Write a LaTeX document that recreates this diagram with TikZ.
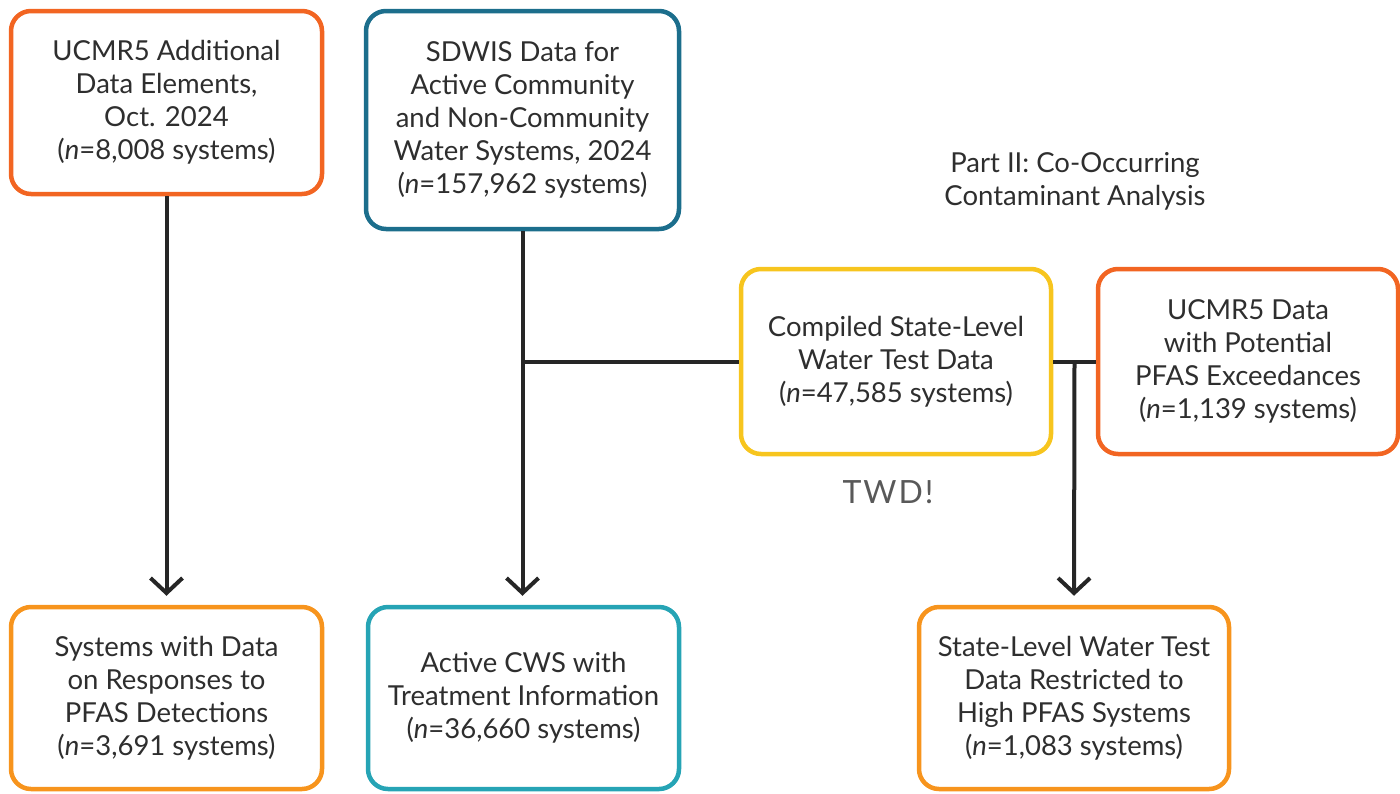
\documentclass[tikz,border=0pt]{standalone}
\usepackage{fontspec}
\setmainfont{Lato}
\newfontfamily\twdfont[LetterSpace=6]{Lato}
\usetikzlibrary{arrows.meta,calc}
\definecolor{cRed}{HTML}{F26522}
\definecolor{cBlue}{HTML}{1C6E8C}
\definecolor{cYel}{HTML}{F7C51E}
\definecolor{cOra}{HTML}{F7941D}
\definecolor{cTeal}{HTML}{26A4B5}
\definecolor{cTxt}{HTML}{2E2E2E}
\definecolor{cLine}{HTML}{262626}
\tikzset{
  box/.style={draw=#1, line width=4.5pt, rounded corners=20pt, fill=white,
    align=center, text=cTxt, inner sep=0pt,
    font=\fontsize{27.5}{33}\selectfont},
  conn/.style={draw=cLine, line width=4pt},
  arr/.style={conn, -{Straight Barb[length=15pt,width=32pt,line width=4pt]}, shorten >=9pt},
}
\begin{document}
\begin{tikzpicture}[x=1pt,y=-1pt]
\useasboundingbox (0,0) rectangle (1400,793);
\node[box=cRed, minimum width=311pt, minimum height=183pt] (b1) at (166.5,102.5)
  {UCMR5 Additional\\Data Elements,\\Oct. 2024\\(\textit{n}=8,008 systems)};
\node[box=cBlue, minimum width=313pt, minimum height=218pt] (b2) at (522.5,120)
  {SDWIS Data for\\Active Community\\and Non-Community\\Water Systems, 2024\\(\textit{n}=157,962 systems)};
\node[box=cYel, minimum width=310pt, minimum height=185pt] (b3) at (896,361.5)
  {Compiled State-Level\\Water Test Data\\(\textit{n}=47,585 systems)};
\node[box=cRed, minimum width=300pt, minimum height=185pt] (b4) at (1248,361.5)
  {UCMR5 Data\\with Potential\\PFAS Exceedances\\(\textit{n}=1,139 systems)};
\node[box=cOra, minimum width=311pt, minimum height=182pt] (b5) at (166.5,698)
  {Systems with Data\\on Responses to\\PFAS Detections\\(\textit{n}=3,691 systems)};
\node[box=cTeal, minimum width=311pt, minimum height=182pt] (b6) at (523.5,698)
  {Active CWS with\\Treatment Information\\(\textit{n}=36,660 systems)};
\node[box=cOra, minimum width=310pt, minimum height=182pt] (b7) at (1074,698)
  {State-Level Water Test\\Data Restricted to\\High PFAS Systems\\(\textit{n}=1,083 systems)};
\node[align=center, text=cTxt, font=\fontsize{27.5}{33}\selectfont] (title) at (1075,181)
  {Part II: Co-Occurring\\Contaminant Analysis};
\node[text=black!65, font=\twdfont\fontsize{32}{38}\selectfont] (twd) at (888,492) {TWD!};
\coordinate (j) at ($(b3.east)!0.5!(b4.west)$);
\draw[arr] (b1.south) -- (b5.north);
\draw[arr] (b2.south) -- (b2.south |- b6.north);
\draw[conn] (b3.west) -- (b2.south |- b3.west);
\draw[conn] (b3.east) -- (b4.west);
\draw[arr] (j) -- (b7.north);
\end{tikzpicture}
\end{document}
